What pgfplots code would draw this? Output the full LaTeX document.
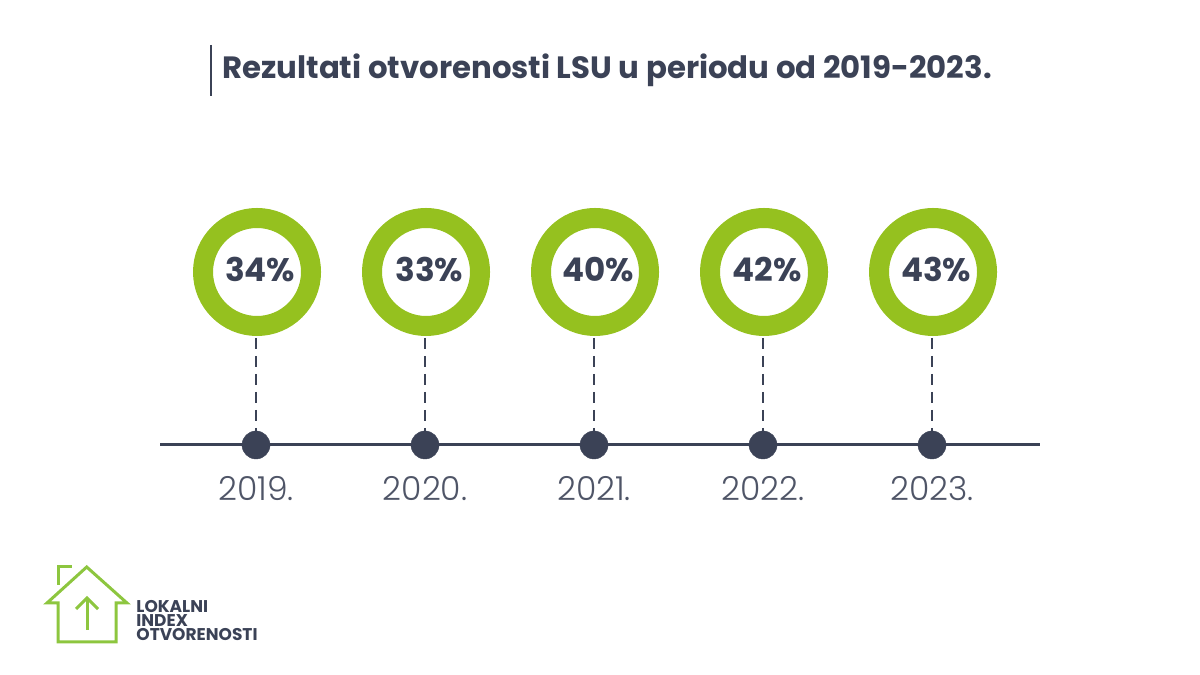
\documentclass[border=0pt]{standalone}
\usepackage{fontspec}
\setmainfont{Poppins}
\IfFontExistsTF{Poppins Light}{\newfontfamily\yearfont{Poppins Light}}{\newfontfamily\yearfont{Poppins}}
\usepackage{pgfplots}
\pgfplotsset{compat=1.18}
\definecolor{ringgreen}{HTML}{95C11F}
\definecolor{logogreen}{HTML}{8DC63F}
\definecolor{navy}{HTML}{3B4256}
\begin{document}
\begin{tikzpicture}
\useasboundingbox (0,0) rectangle (600pt,337.5pt);
\begin{axis}[
  at={(0,0)}, anchor=south west,
  scale only axis, width=600pt, height=337.5pt,
  xmin=-1.514793, xmax=5.585799, ymin=0, ymax=675,
  axis lines=none, clip=false,
]
\pgfplotsset{dashconn/.style={navy, line width=0.8pt, dash pattern=on 5.5pt off 3.5pt, forget plot}}
\addplot[dashconn] coordinates {(0,337)(0,232)};
\addplot[dashconn] coordinates {(1,337)(1,232)};
\addplot[dashconn] coordinates {(2,337)(2,232)};
\addplot[dashconn] coordinates {(3,337)(3,232)};
\addplot[dashconn] coordinates {(4,337)(4,232)};
% timeline
\addplot[navy, line width=1.5pt, forget plot] coordinates {(-0.568,230)(4.639,230)};
% dots
\addplot[only marks, mark=*, mark size=7pt, mark options={fill=navy, draw=navy, line width=0.2pt}, forget plot]
  coordinates {(0,230)(1,230)(2,230)(3,230)(4,230)};
% rings
\addplot[only marks, mark=*, mark size=27pt, mark options={draw=ringgreen, fill=white, line width=10pt}, forget plot]
  coordinates {(0.006,403)(1.006,403)(2.006,403)(3.006,403)(4.006,403)};
% percentage labels
\addplot[draw=none, mark=none, nodes near coords, point meta=explicit symbolic,
  every node near coord/.append style={anchor=center, inner sep=0pt, text=navy, font=\bfseries\fontsize{16.3}{18}\selectfont}, forget plot]
  coordinates {(0.025,405)[34\%] (1.025,405)[33\%] (2.025,405)[40\%] (3.025,405)[42\%] (4.025,405)[43\%]};
% year labels
\addplot[draw=none, mark=none, nodes near coords, point meta=explicit symbolic,
  every node near coord/.append style={anchor=center, inner sep=0pt, text=navy!90, font=\yearfont\fontsize{16.5}{18}\selectfont}, forget plot]
  coordinates {(0,186.5)[2019.] (1,186.5)[2020.] (2,186.5)[2021.] (3,186.5)[2022.] (4,186.5)[2023.]};
\end{axis}
\begin{scope}[yshift=337.5pt, x=0.5pt, y=-0.5pt]
  % title
  \draw[navy, line width=1.3pt] (211,45) -- (211,96);
  \node[anchor=base west, inner sep=0pt, text=navy, font=\bfseries\fontsize{15.4}{17}\selectfont] at (222,79)
    {Rezultati otvorenosti LSU u periodu od 2019-2023.};
  % logo
  \draw[logogreen, line width=1.5pt, line join=miter]
    (58,585) -- (58,567) -- (72,567);
  \draw[logogreen, line width=1.5pt, line join=miter]
    (58,603) -- (47,603) -- (86.7,567) -- (127,603) -- (116,603) -- (116,642) -- (58,642) -- cycle;
  \draw[logogreen, line width=1.5pt] (87,630) -- (87,598);
  \draw[logogreen, line width=1.5pt, line join=miter] (76,609) -- (87,598) -- (98,609);
  \node[anchor=base west, inner sep=0pt, text=navy, font=\bfseries\fontsize{8.5}{10}\selectfont, align=left] at (136,613) {LOKALNI};
  \node[anchor=base west, inner sep=0pt, text=navy, font=\bfseries\fontsize{8.5}{10}\selectfont, align=left] at (136,627) {INDEX};
  \node[anchor=base west, inner sep=0pt, text=navy, font=\bfseries\fontsize{8.5}{10}\selectfont, align=left] at (136,641) {OTVORENOSTI};
\end{scope}
\end{tikzpicture}
\end{document}
